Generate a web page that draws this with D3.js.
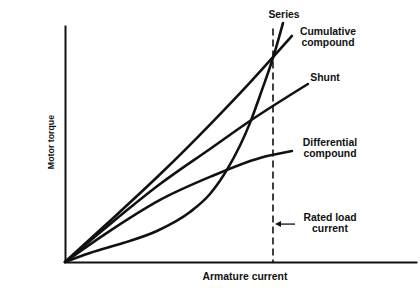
<!DOCTYPE html>
<html>
<head>
<meta charset="utf-8">
<script src="https://cdn.jsdelivr.net/npm/d3@7"></script>
<style>
body { margin: 0; background: #fff; }
svg text { font-family: "Liberation Sans", Arial, sans-serif; font-weight: bold; fill: #111; }
.curve { fill: none; stroke: #111; stroke-width: 2.6; stroke-linecap: round; }
.axis path { stroke: #111; stroke-width: 2; }
</style>
</head>
<body>
<svg id="chart"></svg>
<script>
// armature current as fraction of rated load, torque as fraction of axis height
var seriesI = [0, 0.12, 0.279, 0.442, 0.601, 0.697, 0.784, 0.889, 0.947, 1.0, 1.048];
var seriesT = [0, 0.038, 0.08, 0.131, 0.211, 0.287, 0.397, 0.586, 0.726, 0.861, 1.008];

var cumulI = [0, 0.2, 0.457, 0.697, 0.889, 1.091];
var cumulT = [0, 0.16, 0.37, 0.58, 0.757, 0.954];

var shuntI = [0, 0.2, 0.457, 0.697, 0.889, 1.168];
var shuntT = [0, 0.148, 0.329, 0.477, 0.595, 0.751];

var diffI = [0, 0.2, 0.457, 0.697, 0.9375, 1.091];
var diffT = [0, 0.122, 0.262, 0.359, 0.439, 0.468];

var ratedI = 1.0;
var maxI = 1.692;

var width = 420, height = 288;
var marginLeft = 65, axisBottom = 262, axisTop = 25;

var svg = d3.select("#chart")
.attr("width", width)
.attr("height", height);

var x = d3.scaleLinear()
.domain([0, ratedI])
.range([marginLeft, 273]);

var y = d3.scaleLinear()
.domain([0, 1])
.range([axisBottom, axisTop]);

var line = d3.line()
.x(function(d) { return x(d[0]); })
.y(function(d) { return y(d[1]); })
.curve(d3.curveMonotoneX);

function pairs(a, b) {
	return a.map(function(v, i) { return [v, b[i]]; });
}

// axes
svg.append("g")
.attr("class", "axis")
.attr("transform", "translate(0," + axisBottom + ")")
.call(d3.axisBottom(x.copy().domain([0, maxI]).range([marginLeft, x(maxI)])).ticks(0).tickSizeOuter(0));

svg.append("g")
.attr("class", "axis")
.attr("transform", "translate(" + marginLeft + ",0)")
.call(d3.axisLeft(y).ticks(0).tickSizeOuter(0));

// rated load line
svg.append("line")
.attr("x1", x(ratedI)).attr("x2", x(ratedI))
.attr("y1", y(0.985)).attr("y2", axisBottom)
.attr("stroke", "#111")
.attr("stroke-width", 1.6)
.attr("stroke-dasharray", "7,4");

var curves = [
	[seriesI, seriesT],
	[cumulI, cumulT],
	[shuntI, shuntT],
	[diffI, diffT]
];

svg.selectAll("path.curve")
.data(curves)
.enter()
.append("path")
.attr("class", "curve")
.attr("d", function(d) { return line(pairs(d[0], d[1])); });

// labels
var labels = [
	{ x: 284, y: 18, lines: ["Series"] },
	{ x: 328, y: 35, lines: ["Cumulative", "compound"] },
	{ x: 325, y: 81, lines: ["Shunt"] },
	{ x: 330, y: 146, lines: ["Differential", "compound"] },
	{ x: 330, y: 221, lines: ["Rated load", "current"] }
];

labels.forEach(function(l) {
	var t = svg.append("text")
	.attr("text-anchor", "middle")
	.attr("font-size", "10.4px");
	l.lines.forEach(function(s, i) {
		t.append("tspan")
		.attr("x", l.x)
		.attr("y", l.y + i * 11)
		.text(s);
	});
});

// arrow to rated load line
var ay = y(0.16);
svg.append("line")
.attr("x1", x(ratedI) + 22).attr("x2", x(ratedI) + 4)
.attr("y1", ay).attr("y2", ay)
.attr("stroke", "#111").attr("stroke-width", 1.3);
svg.append("path")
.attr("d", "M0 0 L6 -3 L6 3 Z")
.attr("fill", "#111")
.attr("transform", "translate(" + [x(ratedI) + 2, ay] + ")");

svg.append("text")
.attr("x", 245).attr("y", 280)
.attr("text-anchor", "middle")
.attr("font-size", "10.4px")
.text("Armature current");

svg.append("text")
.attr("transform", "translate(54,142) rotate(-90)")
.attr("text-anchor", "middle")
.attr("font-size", "8.8px")
.text("Motor torque");
</script>
</body>
</html>
